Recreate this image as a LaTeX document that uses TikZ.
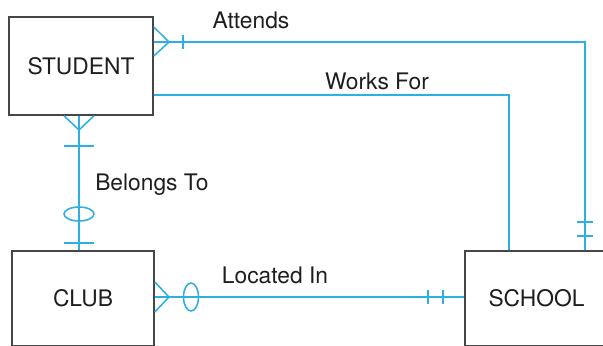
\documentclass[tikz,border=0pt]{standalone}
\usepackage{fontspec}
\setmainfont{TeX Gyre Heros}
\usepackage{xcolor}
\usetikzlibrary{positioning,calc}
\definecolor{relline}{RGB}{45, 175, 225}
\definecolor{boxline}{RGB}{70, 70, 70}
\definecolor{inktext}{RGB}{30, 30, 30}

\tikzset{
  entity/.style={draw=boxline, line width=1.1pt, text=inktext, inner sep=0pt,
    font=\fontsize{16.2}{18}\selectfont},
  rel/.style={draw=relline, line width=1.1pt},
  rellabel/.style={text=inktext, inner sep=0pt, font=\fontsize{16.2}{18}\selectfont}
}

\begin{document}
\begin{tikzpicture}[x=0.025cm, y=-0.025cm]
      \useasboundingbox (0,0) rectangle (603,345);
      \clip (0,0) rectangle (603,345);

      % entities
      \node[entity, minimum width=3.6cm, minimum height=2.45cm] (student) at (81,66) {STUDENT};
      \node[entity, minimum width=3.55cm, minimum height=2.375cm] (club) at (83,298.5) {CLUB};
      \node[entity, minimum width=3.575cm, minimum height=2.375cm] (school) at (536.5,298.5) {SCHOOL};

      % corners of the long connectors
      \coordinate (attcorner) at (585,42);
      \coordinate (workcorner) at (509,95);
      \coordinate (belongsx) at (79,0);
      \coordinate (locatedy) at (0,297);

      % Attends
      \draw[rel] (student.east |- attcorner) -- (attcorner) -- (attcorner |- school.north);
      \draw[rel] (student.east |- 0,27) -- (169,42) -- (student.east |- 0,56);
      \draw[rel] (183,35) -- (183,49);
      \draw[rel] (577,222) -- (593,222);
      \draw[rel] (577,236) -- (593,236);
      \node[rellabel] (attends) at (251,20) {Attends};

      % Works For
      \draw[rel] (student.east |- workcorner) -- (workcorner) -- (workcorner |- school.north);
      \node[rellabel] (worksfor) at (377,81) {Works For};

      % Belongs To
      \draw[rel] (student.south -| belongsx) -- (club.north -| belongsx);
      \draw[rel] (student.south -| 64,0) -- (79,130) -- (student.south -| 94,0);
      \draw[rel] (64,146) -- (94,146);
      \draw[rel] (79,214) ellipse (15 and 7);
      \draw[rel] (64,243) -- (94,243);
      \node[rellabel, anchor=west] (belongsto) at (95,185) {Belongs To};

      % Located In
      \draw[rel] (club.east |- locatedy) -- (school.west |- locatedy);
      \draw[rel] (club.east |- 0,282) -- (169,297) -- (club.east |- 0,312);
      \draw[rel] (191,297) ellipse (7.5 and 14);
      \draw[rel] (428,290) -- (428,304);
      \draw[rel] (443,290) -- (443,304);
      \node[rellabel] (locatedin) at (275,275) {Located In};

    \end{tikzpicture}
\end{document}
